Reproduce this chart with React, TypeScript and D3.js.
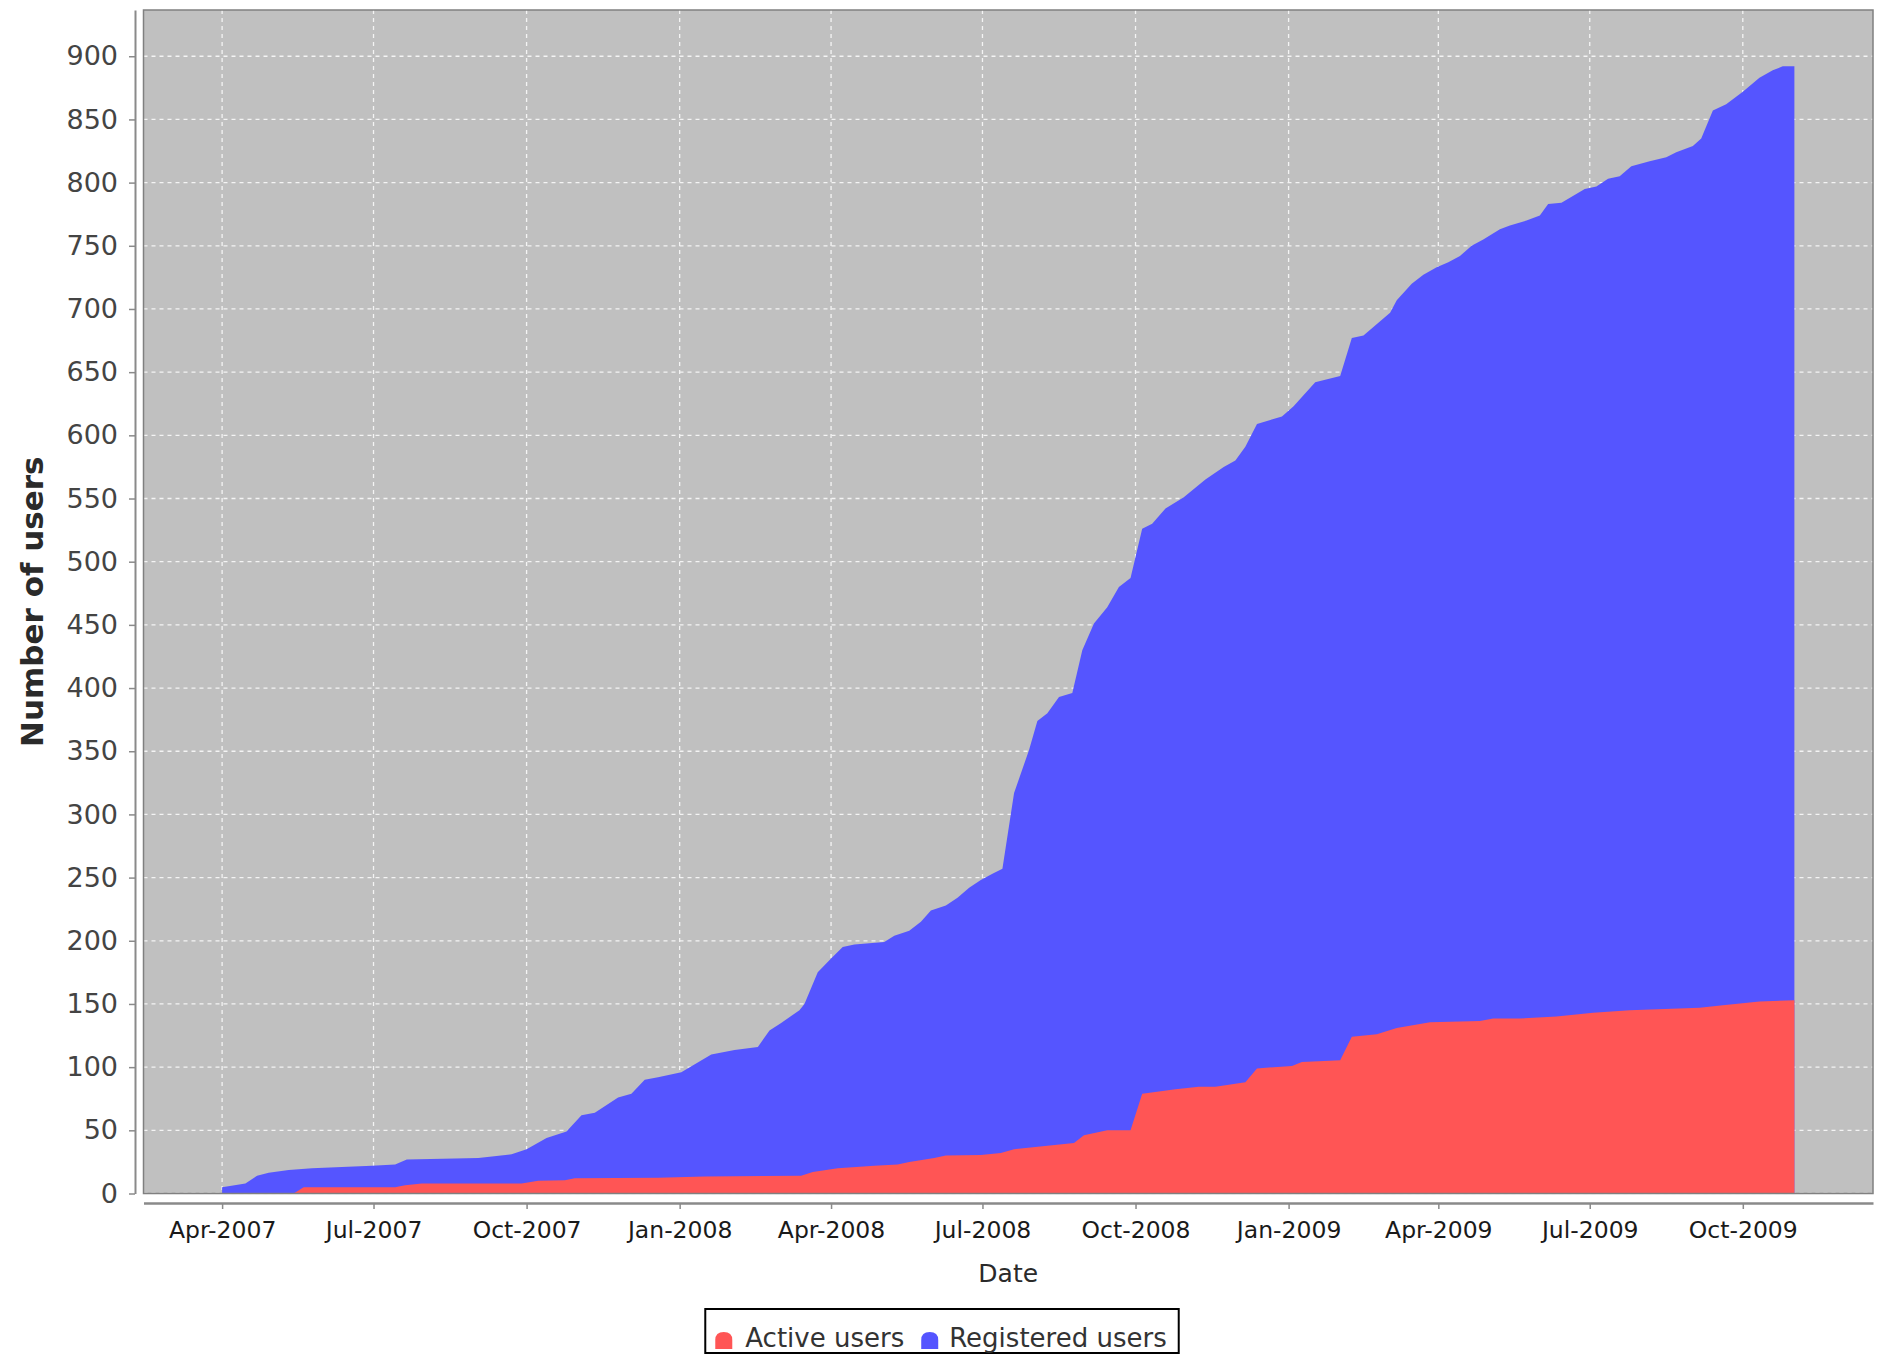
import React, { useRef, useEffect } from 'react';
import * as d3 from 'd3';

// cumulative registered users (blue area)
const registeredDates = [
  '2007-04-01', '2007-04-15', '2007-04-22', '2007-04-29', '2007-05-11', '2007-05-25', '2007-06-30',
  '2007-07-14', '2007-07-21', '2007-09-02', '2007-09-22', '2007-10-01', '2007-10-13', '2007-10-25',
  '2007-11-03', '2007-11-11', '2007-11-25', '2007-12-03', '2007-12-11', '2007-12-19', '2008-01-02',
  '2008-01-20', '2008-02-03', '2008-02-17', '2008-02-24', '2008-03-02', '2008-03-13', '2008-03-16',
  '2008-03-24', '2008-04-01', '2008-04-08', '2008-04-15', '2008-05-03', '2008-05-09', '2008-05-18',
  '2008-05-25', '2008-05-31', '2008-06-09', '2008-06-16', '2008-06-23', '2008-06-30', '2008-07-07',
  '2008-07-13', '2008-07-20', '2008-07-29', '2008-08-03', '2008-08-09', '2008-08-16', '2008-08-24',
  '2008-08-30', '2008-09-06', '2008-09-14', '2008-09-21', '2008-09-28', '2008-10-05', '2008-10-11',
  '2008-10-19', '2008-10-30', '2008-11-12', '2008-11-23', '2008-11-30', '2008-12-06', '2008-12-13',
  '2008-12-28', '2009-01-04', '2009-01-17', '2009-02-01', '2009-02-08', '2009-02-15', '2009-03-03',
  '2009-03-07', '2009-03-16', '2009-03-23', '2009-03-31', '2009-04-07', '2009-04-14', '2009-04-21',
  '2009-04-28', '2009-05-08', '2009-05-14', '2009-05-24', '2009-06-01', '2009-06-06', '2009-06-14',
  '2009-06-28', '2009-07-05', '2009-07-12', '2009-07-19', '2009-07-26', '2009-08-06', '2009-08-16',
  '2009-08-22', '2009-09-01', '2009-09-06', '2009-09-13', '2009-09-21', '2009-10-01', '2009-10-11',
  '2009-10-19', '2009-10-25', '2009-11-01',
];
const registeredValues = [
  5, 8, 14, 16.5, 18.5, 20, 22,
  23, 27, 28, 31, 35, 44, 49,
  62, 64, 76, 79, 90, 92, 96,
  110, 113.5, 116, 129, 135, 145, 150,
  175, 186, 195, 197, 199, 204, 208,
  215, 224, 228, 234, 242, 248, 253,
  257, 317, 351, 374, 380, 393, 396,
  430, 451, 464, 480, 487, 526, 530,
  542, 551, 565, 575, 580, 591, 609,
  615, 623, 642, 647, 677, 679, 697,
  707, 720, 727, 733, 737, 742, 750,
  755, 763, 766, 770, 774, 783, 784,
  795, 797, 803, 805, 813, 817, 820,
  824, 829, 835, 857, 862, 872, 883,
  889, 892, 892,
];

// active users (red area, drawn on top)
const activeDates = [
  '2007-05-14', '2007-05-20', '2007-07-14', '2007-07-20', '2007-07-30', '2007-09-28', '2007-10-08',
  '2007-10-24', '2007-10-30', '2007-12-19', '2008-01-16', '2008-03-14', '2008-03-21', '2008-04-05',
  '2008-04-27', '2008-05-11', '2008-05-18', '2008-06-02', '2008-06-09', '2008-06-30', '2008-07-12',
  '2008-07-20', '2008-08-25', '2008-08-31', '2008-09-14', '2008-09-28', '2008-10-05', '2008-10-25',
  '2008-11-08', '2008-11-18', '2008-12-06', '2008-12-13', '2009-01-03', '2009-01-09', '2009-02-01',
  '2009-02-08', '2009-02-23', '2009-03-07', '2009-03-27', '2009-04-26', '2009-05-04', '2009-05-20',
  '2009-06-11', '2009-07-03', '2009-07-25', '2009-08-15', '2009-09-05', '2009-09-19', '2009-10-11',
  '2009-11-01',
];
const activeValues = [
  0, 5, 5, 6.5, 8, 8, 10,
  10.5, 12, 12.5, 13.5, 14, 17, 20,
  22, 23, 25, 28, 30, 30.5, 32,
  35, 40, 46, 50, 50, 79, 82.5,
  84.5, 84.5, 88, 99, 101, 104, 105.5,
  124, 126, 131, 135.5, 136.5, 138.5, 138.5,
  140, 143, 145, 146, 147, 149, 152,
  153,
];

const yTickValues = [0, 50, 100, 150, 200, 250, 300, 350, 400, 450, 500, 550, 600, 650, 700, 750, 800, 850, 900];
const xTickDates = [
  '2007-04-01', '2007-07-01', '2007-10-01', '2008-01-01', '2008-04-01', '2008-07-01',
  '2008-10-01', '2009-01-01', '2009-04-01', '2009-07-01', '2009-10-01',
];
const legendLabels = ['Active users', 'Registered users'];

const COLORS = {
  active: '#ff5555',
  registered: '#5555ff',
  plotBg: '#c0c0c0',
  grid: '#f4f4f4',
  outline: '#808080',
  axis: '#8a8a8a',
  tickLabel: '#444444',
  xTickLabel: '#1a1a1a',
  label: '#2a2a2a',
};

const FONT = '"DejaVu Sans", sans-serif';
const W = 1877;
const H = 1355;
const plot = { left: 143.5, top: 10, right: 1873, bottom: 1193.5 };

type Pt = { date: Date; value: number };

const App: React.FC = () => {
  const ref = useRef<SVGSVGElement>(null);

  useEffect(() => {
    if (!ref.current) return;
    const svg = d3.select(ref.current);
    svg.selectAll('*').remove();

    const parse = d3.timeParse('%Y-%m-%d');
    const reg: Pt[] = registeredDates.map((d, i) => ({ date: parse(d)!, value: registeredValues[i] }));
    const act: Pt[] = activeDates.map((d, i) => ({ date: parse(d)!, value: activeValues[i] }));

    // domain with 5% margins on both sides, like the original
    const [d0, d1] = d3.extent([...reg, ...act], d => d.date) as [Date, Date];
    const pad = (+d1 - +d0) * 0.05;
    const x = d3.scaleTime()
      .domain([new Date(+d0 - pad), new Date(+d1 + pad)])
      .range([plot.left, plot.right]);
    const yMax = (d3.max(registeredValues) as number) * 1.05;
    const y = d3.scaleLinear().domain([0, yMax]).range([plot.bottom, plot.top]);

    svg.append('rect')
      .attr('x', plot.left).attr('y', plot.top)
      .attr('width', plot.right - plot.left).attr('height', plot.bottom - plot.top)
      .attr('fill', COLORS.plotBg);

    const grid = svg.append('g');
    grid.selectAll('line.h')
      .data(yTickValues)
      .enter().append('line')
      .attr('x1', plot.left).attr('x2', plot.right)
      .attr('y1', d => y(d)).attr('y2', d => y(d))
      .attr('stroke', COLORS.grid).attr('stroke-width', 1.3).attr('stroke-dasharray', '4,4');
    grid.selectAll('line.v')
      .data(xTickDates.map(d => parse(d)!))
      .enter().append('line')
      .attr('x1', d => x(d)).attr('x2', d => x(d))
      .attr('y1', plot.top).attr('y2', plot.bottom)
      .attr('stroke', COLORS.grid).attr('stroke-width', 1.3).attr('stroke-dasharray', '4,4');

    const area = d3.area<Pt>()
      .x(d => x(d.date))
      .y0(y(0))
      .y1(d => y(d.value));

    svg.append('path').datum(reg).attr('d', area).attr('fill', COLORS.registered);
    svg.append('path').datum(act).attr('d', area).attr('fill', COLORS.active);

    svg.append('rect')
      .attr('x', plot.left).attr('y', plot.top)
      .attr('width', plot.right - plot.left).attr('height', plot.bottom - plot.top)
      .attr('fill', 'none').attr('stroke', COLORS.outline).attr('stroke-width', 1.5);

    // y axis
    const yAxis = svg.append('g')
      .attr('transform', 'translate(135,0)')
      .call(d3.axisLeft(y).tickValues(yTickValues).tickSize(6).tickSizeOuter(0).tickPadding(11));
    yAxis.select('.domain').attr('stroke', COLORS.axis).attr('stroke-width', 2);
    yAxis.selectAll('line').attr('stroke', COLORS.axis).attr('stroke-width', 1.5);
    yAxis.selectAll('text')
      .attr('font-family', FONT).attr('font-size', 27).attr('fill', COLORS.tickLabel);

    // x axis, offset below the plot
    const xAxis = svg.append('g')
      .attr('transform', 'translate(0,1203)')
      .call(d3.axisBottom(x)
        .tickValues(xTickDates.map(d => parse(d)!))
        .tickFormat(d3.timeFormat('%b-%Y') as any)
        .tickSize(6).tickSizeOuter(0).tickPadding(12));
    xAxis.select('.domain').attr('stroke', COLORS.axis).attr('stroke-width', 2.5);
    xAxis.selectAll('line').attr('stroke', COLORS.axis).attr('stroke-width', 1.5);
    xAxis.selectAll('text')
      .attr('font-family', FONT).attr('font-size', 23.5).attr('fill', COLORS.xTickLabel);

    svg.append('text')
      .attr('transform', `translate(32,${(plot.top + plot.bottom) / 2}) rotate(-90)`)
      .attr('text-anchor', 'middle')
      .attr('dominant-baseline', 'central')
      .attr('font-family', FONT).attr('font-size', 31).attr('font-weight', 'bold')
      .attr('fill', COLORS.label)
      .text('Number of users');

    svg.append('text')
      .attr('x', (plot.left + plot.right) / 2).attr('y', 1282)
      .attr('text-anchor', 'middle')
      .attr('font-family', FONT).attr('font-size', 25)
      .attr('fill', COLORS.label)
      .text('Date');

    // legend
    const legend = svg.append('g');
    const box = legend.append('rect')
      .attr('y', 1309).attr('height', 44)
      .attr('fill', 'white').attr('stroke', '#000').attr('stroke-width', 2);
    const baseline = 1347;
    const items = [
      { label: legendLabels[0], color: COLORS.active },
      { label: legendLabels[1], color: COLORS.registered },
    ];
    const inner = legend.append('g');
    let cursor = 0;
    items.forEach((it, i) => {
      // rounded "dome" legend glyph
      const l = cursor, r = cursor + 17, b = baseline + 2, t = baseline - 15, m = baseline - 7;
      inner.append('path')
        .attr('d', `M${l},${b}L${l},${m}Q${l},${t} ${(l + r) / 2},${t}Q${r},${t} ${r},${m}L${r},${b}Z`)
        .attr('fill', it.color);
      const tx = cursor + (i === 0 ? 30 : 28);
      const txt = inner.append('text')
        .attr('x', tx).attr('y', baseline)
        .attr('font-family', FONT).attr('font-size', 26).attr('fill', '#333')
        .text(it.label);
      const w = (txt.node() as SVGTextElement).getComputedTextLength();
      cursor = tx + w + 17;
    });
    const boxW = cursor - 17 + 12 + 10;
    const boxX = 942 - boxW / 2;
    box.attr('x', boxX).attr('width', boxW);
    inner.attr('transform', `translate(${boxX + 10},0)`);
  }, []);

  return (
    <svg ref={ref} width={W} height={H} style={{ position: 'absolute', left: 0, top: 0, background: 'white' }}></svg>
  );
};

export default App;
